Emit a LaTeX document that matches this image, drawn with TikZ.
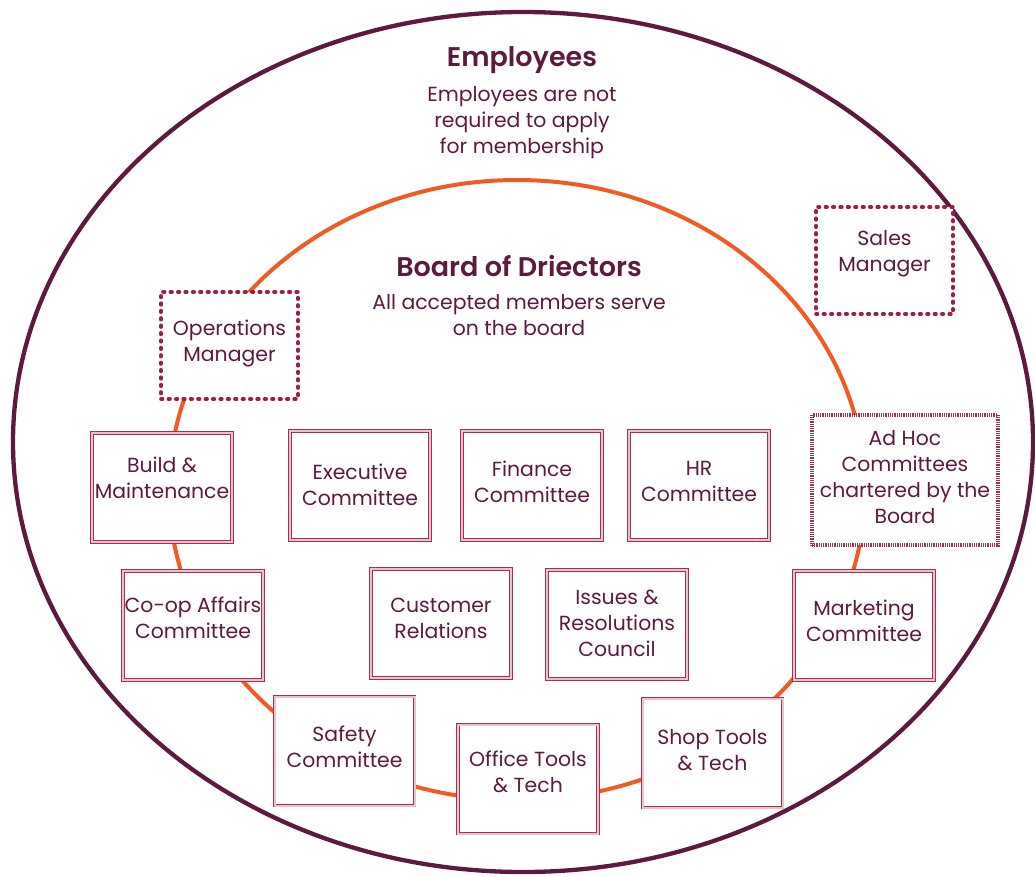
\documentclass[tikz,border=0pt]{standalone}
\usepackage{fontspec}
\setmainfont{Poppins}
\newfontfamily\semib{Poppins SemiBold}
\definecolor{plum}{HTML}{5B1A3E}
\definecolor{orng}{HTML}{F15A22}
\definecolor{boxred}{HTML}{A3304E}
\definecolor{boxpink}{HTML}{EBC3CC}
\definecolor{dashred}{HTML}{9E1F40}
\begin{document}
\begin{tikzpicture}[x=1pt,y=-1pt,
  font=\fontsize{20.4}{26}\selectfont,
  txt/.style={text=plum, align=center, inner sep=0pt},
  ttl/.style={text=plum, font=\fontsize{27}{30}\selectfont\semib, inner sep=0pt},
  cbox/.style={draw=boxred, double=boxpink, double distance=2pt, line width=0.9pt,
    fill=white, minimum width=140pt, minimum height=109pt, inner sep=0pt},
  dbox/.style={draw=dashred, line width=3.6pt, dash pattern=on 1.6pt off 5.8pt, line cap=round,
    fill=white, minimum width=137pt, minimum height=107pt, inner sep=0pt},
  abox/.style={draw=boxred, line width=3.2pt, dash pattern=on 1pt off 0.8pt,
    fill=white, inner sep=0pt}
]
\useasboundingbox[fill=white] (0,0) rectangle (1035,876);
% outer ellipse
\draw[plum, line width=4.3pt] (523,442) ellipse [x radius=510, y radius=430];
% inner ellipse
\draw[orng, line width=4pt] (517,490) ellipse [x radius=348, y radius=310];

% titles
\node[ttl] (emp) at (522,60) {Employees};
\node[txt] (empsub) at (522,122.5) {Employees are not\\required to apply\\for membership};
\node[ttl] (board) at (519,266) {Board of Driectors};
\node[txt] (boardsub) at (519,315.5) {All accepted members serve\\on the board};

% dashed boxes
\node[dbox] (ops) at (229.5,345.5) {};
\node[txt] (opst) at (229.5,343) {Operations\\Manager};
\node[dbox] (sales) at (884.5,260.5) {};
\node[txt] (salest) at (884.5,253.5) {Sales\\Manager};

% committee boxes
\node[cbox] (build) at (162,487.5) {};
\node[txt] (buildt) at (162,478) {Build \&\\Maintenance};
\node[cbox] (exec) at (360,485.5) {};
\node[txt] (exect) at (360,485) {Executive\\Committee};
\node[cbox] (fin) at (532,485.5) {};
\node[txt] (fint) at (532,481.5) {Finance\\Committee};
\node[cbox] (hr) at (699,485.5) {};
\node[txt] (hrt) at (699,481.5) {HR\\Committee};
\node[abox, minimum width=186pt, minimum height=130pt] (adhoc) at (905,480) {};
\node[txt] (adhoct) at (905,477) {Ad Hoc\\Committees\\chartered by the\\Board};
\node[cbox] (coop) at (193,625.5) {};
\node[txt] (coopt) at (193,618) {Co-op Affairs\\Committee};
\node[cbox] (cust) at (441,623.5) {};
\node[txt] (custt) at (441,618) {Customer\\Relations};
\node[cbox] (issues) at (617,624.5) {};
\node[txt] (issuest) at (617,623.5) {Issues \&\\Resolutions\\Council};
\node[cbox] (mkt) at (864,625.5) {};
\node[txt] (mktt) at (864,621) {Marketing\\Committee};
\node[cbox] (safety) at (344.5,751) {};
\node[txt] (safetyt) at (344.5,747) {Safety\\Committee};
\node[cbox] (office) at (528,779) {};
\node[txt] (officet) at (528,772) {Office Tools\\\& Tech};
\node[cbox] (shop) at (712.5,753) {};
\node[txt] (shopt) at (712.5,750) {Shop Tools\\\& Tech};
\end{tikzpicture}
\end{document}
